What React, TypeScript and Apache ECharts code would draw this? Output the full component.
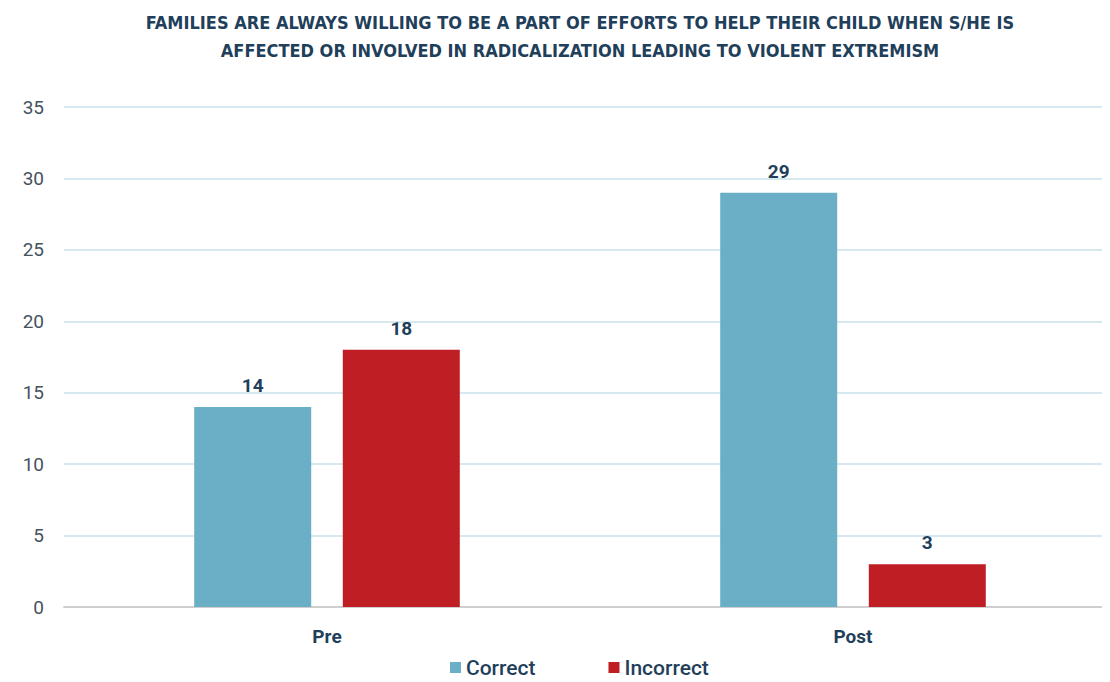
import React, { useEffect, useRef } from "react";
import * as echarts from "echarts";

const titleLines = [
  "FAMILIES ARE ALWAYS WILLING TO BE A PART OF EFFORTS TO HELP THEIR CHILD WHEN S/HE IS",
  "AFFECTED OR INVOLVED IN RADICALIZATION LEADING TO VIOLENT EXTREMISM",
];
const categories = ["Pre", "Post"];
const correctValues = [14, 29];
const incorrectValues = [18, 3];
const seriesNames = ["Correct", "Incorrect"];

const NAVY = "#1F3F5B";

export default function App() {
  const ref = useRef<HTMLDivElement>(null);
  useEffect(() => {
    if (!ref.current) return;
    document.documentElement.style.overflow = "hidden";
    document.body.style.overflow = "hidden";
    const chart = echarts.init(ref.current, null, { renderer: "svg" });
    const labelStyle = {
      show: true,
      position: "top" as const,
      distance: 12,
      color: NAVY,
      fontSize: 19,
      fontWeight: "bold" as const,
      fontFamily: "Roboto",
    };
    const titleFont = {
      fontFamily: "Liberation Sans Narrow, DejaVu Sans Condensed, sans-serif",
      fontWeight: "bold",
      fontSize: 18,
      fill: NAVY,
      align: "center",
      verticalAlign: "middle",
    };
    chart.setOption({
      animation: false,
      backgroundColor: "#ffffff",
      graphic: titleLines.map((t, i) => ({
        type: "text",
        x: 572,
        y: 14 + i * 28,
        style: { text: t, ...titleFont },
      })),
      legend: {
        top: 644,
        left: 437,
        itemWidth: 11,
        itemHeight: 11,
        itemGap: 73,
        icon: "rect",
        textStyle: { color: NAVY, fontSize: 21, fontFamily: "Roboto", fontWeight: 500 },
        data: seriesNames,
      },
      grid: { left: 56, right: 12, top: 99, bottom: 75, containLabel: false },
      xAxis: {
        type: "category",
        data: categories,
        axisTick: { show: false },
        axisLine: { lineStyle: { color: "#CFCFCF", width: 2 } },
        axisLabel: { color: NAVY, fontSize: 19, fontWeight: "bold", fontFamily: "Roboto", margin: 20 },
      },
      yAxis: {
        type: "value",
        min: 0,
        max: 35,
        interval: 5,
        axisLine: { show: false },
        axisTick: { show: false },
        splitLine: { lineStyle: { color: "#D7E9F0", width: 2 } },
        axisLabel: { color: "#46525E", fontSize: 19, fontFamily: "Roboto", margin: 20 },
      },
      series: [
        {
          name: seriesNames[0],
          type: "bar",
          data: correctValues,
          barWidth: 117,
          barGap: "27%",
          itemStyle: { color: "#6AAFC6" },
          label: labelStyle,
        },
        {
          name: seriesNames[1],
          type: "bar",
          data: incorrectValues,
          barWidth: 117,
          itemStyle: { color: "#BE1E24" },
          label: labelStyle,
        },
      ],
    });
    return () => chart.dispose();
  }, []);
  return <div ref={ref} style={{ width: 1120, height: 674 }} />;
}
